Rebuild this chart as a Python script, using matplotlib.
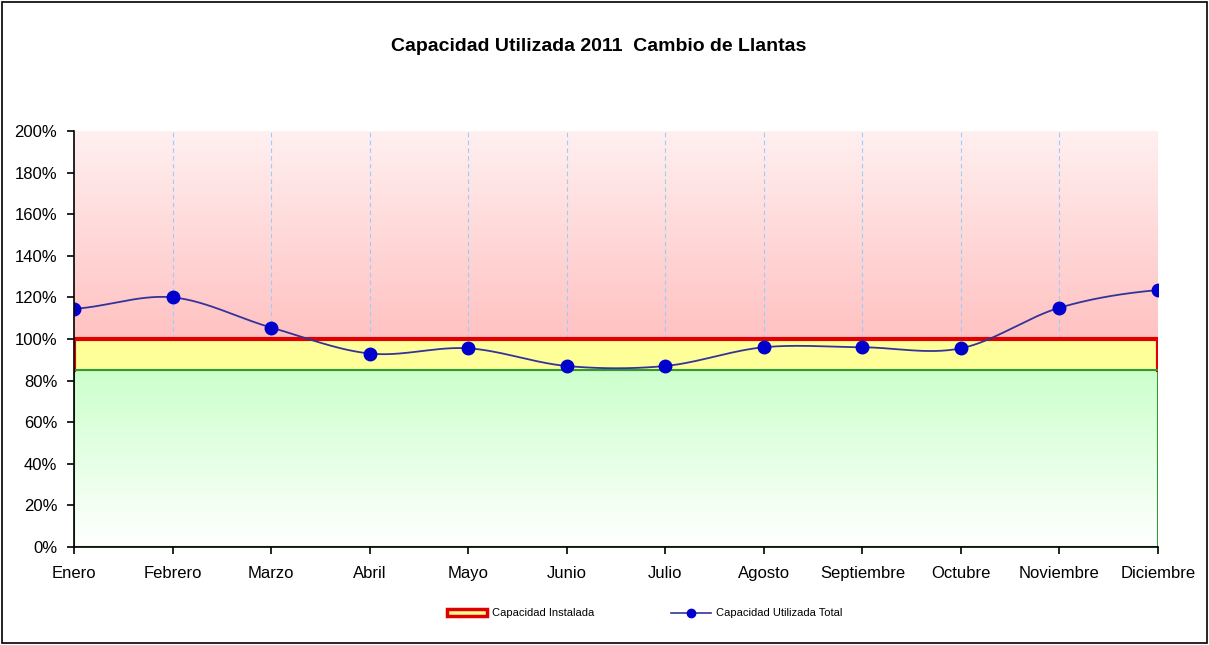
"""
Capacidad utilizada 2011 - Cambio de Llantas
"""

import numpy as np
import matplotlib.pyplot as plt
from matplotlib.patches import Rectangle
from matplotlib.lines import Line2D
from matplotlib.ticker import PercentFormatter

plt.rcParams['font.family'] = ['Liberation Sans', 'DejaVu Sans']

meses = ['Enero', 'Febrero', 'Marzo', 'Abril', 'Mayo', 'Junio', 'Julio',
         'Agosto', 'Septiembre', 'Octubre', 'Noviembre', 'Diciembre']
utilizada = [114.5, 120.0, 105.5, 93.0, 95.5, 87.0, 87.0, 96.0, 96.0, 95.5, 115.0, 123.5]

# bandas de capacidad (%)
limite_verde = 85
capacidad_instalada = 100
limite_max = 200


def suavizar(y, pasos=30):
    """curva suavizada tipo Excel (Catmull-Rom)"""
    y = np.asarray(y, dtype=float)
    x = np.arange(len(y), dtype=float)
    xs, ys = [], []
    for i in range(len(y) - 1):
        p0 = y[i - 1] if i > 0 else y[i]
        p1, p2 = y[i], y[i + 1]
        p3 = y[i + 2] if i + 2 < len(y) else y[i + 1]
        t = np.linspace(0, 1, pasos, endpoint=False)
        ys.append(0.5 * ((2 * p1) + (-p0 + p2) * t
                         + (2 * p0 - 5 * p1 + 4 * p2 - p3) * t ** 2
                         + (-p0 + 3 * p1 - 3 * p2 + p3) * t ** 3))
        xs.append(x[i] + t)
    xs.append([x[-1]])
    ys.append([y[-1]])
    return np.concatenate(xs), np.concatenate(ys)


fig = plt.figure(figsize=(12.09, 6.45), dpi=100)
ax = fig.add_axes([0.0612, 0.152, 0.8966, 0.645])
n = len(meses)
x = np.arange(n)

# fondo rojo degradado (sobre capacidad)
rojo = np.linspace(0, 1, 100).reshape(-1, 1)
c_top = np.array([1.0, 0.94, 0.94])
c_bot = np.array([1.0, 0.76, 0.76])
img_rojo = c_bot + (c_top - c_bot) * rojo[..., None]
ax.imshow(img_rojo, extent=(0, n - 1, capacidad_instalada, limite_max),
          origin='lower', aspect='auto', zorder=0)

# fondo verde degradado
verde = np.linspace(0, 1, 100).reshape(-1, 1)
g_top = np.array([0.80, 1.0, 0.80])
g_bot = np.array([1.0, 1.0, 1.0])
img_verde = g_bot + (g_top - g_bot) * verde[..., None]
ax.imshow(img_verde, extent=(0, n - 1, 0, limite_verde),
          origin='lower', aspect='auto', zorder=0)
ax.add_patch(Rectangle((0, 0), n - 1, limite_verde, fill=False,
                       edgecolor='#339933', linewidth=1.5, zorder=1))

# banda amarilla de capacidad instalada
ax.add_patch(Rectangle((0, limite_verde), n - 1, capacidad_instalada - limite_verde,
                       facecolor='#ffff99', edgecolor='none', zorder=1))
ax.plot([0, 0, n - 1, n - 1],
        [limite_verde, capacidad_instalada, capacidad_instalada, limite_verde],
        color='#e00000', linewidth=3, solid_joinstyle='miter', zorder=2)
ax.plot([0, n - 1], [limite_verde, limite_verde], color='#339933', linewidth=1.5, zorder=2)

# lineas verticales (solo en la zona roja)
ax.vlines(x[1:], capacidad_instalada, limite_max, colors='#99ccff',
          linestyles=(0, (4, 3)), linewidth=0.8, zorder=1)

# serie
xs, ys = suavizar(utilizada)
ax.plot(xs, ys, color='#333399', linewidth=1.3, zorder=3)
ax.plot(x, utilizada, 'o', color='#0000cc', markersize=9, zorder=4)

ax.set_xlim(0, n - 1)
ax.set_ylim(0, limite_max)
ax.set_xticks(x)
ax.set_xticklabels(meses, fontsize=12)
ax.set_yticks(np.arange(0, 201, 20))
ax.yaxis.set_major_formatter(PercentFormatter(decimals=0))
ax.tick_params(axis='y', labelsize=12, direction='out', length=5, width=1.2, pad=7)
ax.tick_params(axis='x', direction='out', length=5, width=1.2, pad=9)
for s in ['top', 'right']:
    ax.spines[s].set_visible(False)
for s in ['left', 'bottom']:
    ax.spines[s].set_linewidth(1.2)
    ax.spines[s].set_zorder(5)

fig.text(0.495, 0.928, 'Capacidad Utilizada 2011  Cambio de Llantas',
         ha='center', va='center', fontsize=14, fontweight='bold')

# leyenda
h1 = Rectangle((0, 0), 1, 1, facecolor='#ffff99', edgecolor='#e00000', linewidth=2.5)
h2 = Line2D([], [], color='#333399', marker='o', markerfacecolor='#0000cc',
            markeredgecolor='#0000cc', markersize=6, linewidth=1.2)
fig.legend([h1, h2], ['Capacidad Instalada', 'Capacidad Utilizada Total'],
           loc='center', bbox_to_anchor=(0.5335, 0.049), ncol=2, fontsize=8,
           frameon=False, columnspacing=6.9, handlelength=3.6, handleheight=0.6,
           handletextpad=0.45)

# borde del grafico
fig.add_artist(Rectangle((0.002, 0.003), 0.996, 0.994, transform=fig.transFigure,
                         fill=False, edgecolor='black', linewidth=1.2))

plt.savefig('out.png', dpi=100)
